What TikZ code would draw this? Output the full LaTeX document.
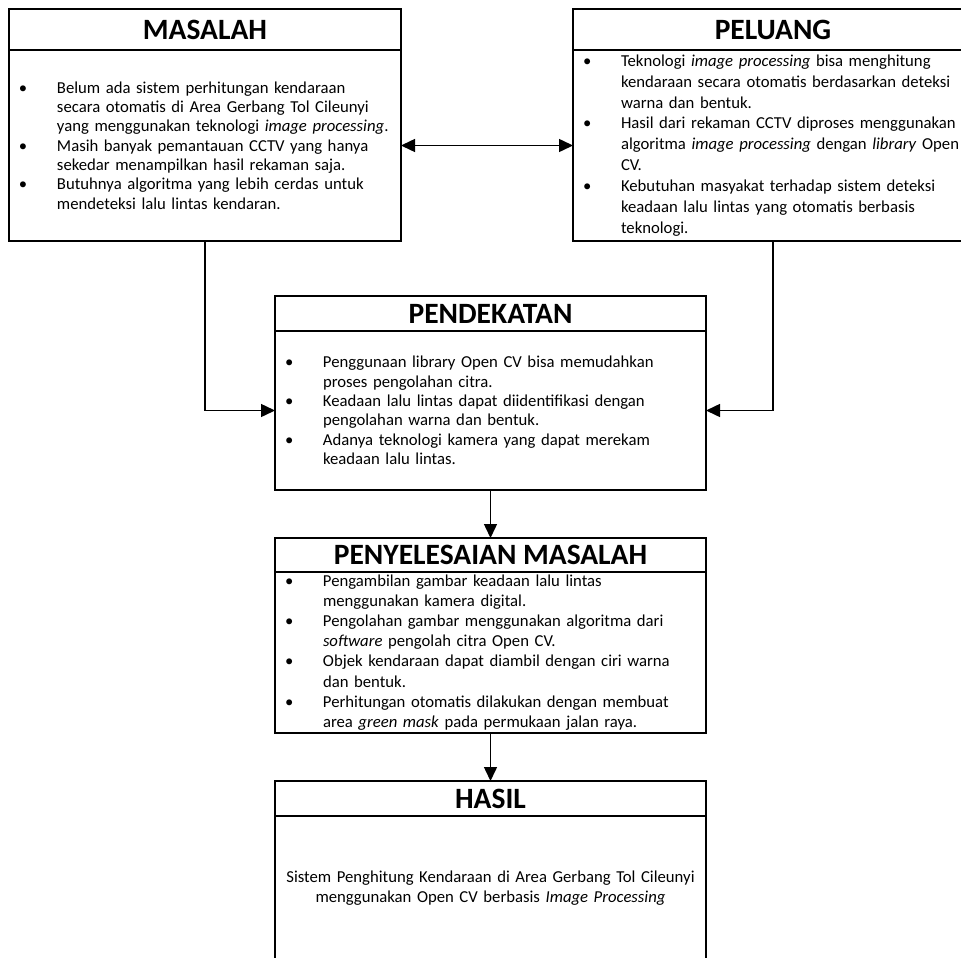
\documentclass[tikz,border=0pt]{standalone}
\usepackage{fontspec}
\setmainfont{Carlito}
\usepackage{tikz}
\usetikzlibrary{positioning,arrows.meta}

\newcommand{\butir}[1]{\leftskip=10pt\hangindent=38pt\hangafter=1\hyphenpenalty=10000\relax
    \noindent\makebox[38pt][l]{\textbullet}#1\par}

\begin{document}
\begin{tikzpicture}[x=1pt, y=-1pt, line width=1.5pt, >={Triangle[length=14pt,width=13pt]},
    every node/.style={draw=black, outer sep=0pt, inner sep=0pt},
    judul/.style={font=\bfseries\fontsize{29.5}{31}\selectfont},
    isi/.style={font=\fontsize{16.7}{19.3}\selectfont, align=left},
    isirapat/.style={isi, font=\fontsize{16.7}{20.9}\selectfont}]
    \clip (0,0) rectangle (961,958);

    \node (MT) [judul, minimum width=392pt, minimum height=41pt] at (205,29.5) {MASALAH};
    \node (MB) [isi, below=0pt of MT, text width=392pt, minimum height=191pt] {%
        \butir{Belum ada sistem perhitungan kendaraan\newline secara otomatis di Area Gerbang Tol Cileunyi\newline yang menggunakan teknologi \textit{image processing}.}
        \butir{Masih banyak pemantauan CCTV yang hanya\newline sekedar menampilkan hasil rekaman saja.}
        \butir{Butuhnya algoritma yang lebih cerdas untuk\newline mendeteksi lalu lintas kendaran.}};

    \node (PT) [judul, minimum width=400pt, minimum height=41pt] at (773,29.5) {PELUANG};
    \node (PB) [isirapat, below=0pt of PT, text width=400pt, minimum height=191pt] {%
        \butir{Teknologi \textit{image processing} bisa menghitung\newline kendaraan secara otomatis berdasarkan deteksi\newline warna dan bentuk.}
        \butir{Hasil dari rekaman CCTV diproses menggunakan\newline algoritma \textit{image processing} dengan \textit{library} Open\newline CV.}
        \butir{Kebutuhan masyakat terhadap sistem deteksi\newline keadaan lalu lintas yang otomatis berbasis\newline teknologi.}};

    \node (DT) [judul, minimum width=431pt, minimum height=35pt] at (490.5,313.5) {PENDEKATAN};
    \node (DB) [isi, below=0pt of DT, text width=431pt, minimum height=159pt] {%
        \butir{Penggunaan library Open CV bisa memudahkan\newline proses pengolahan citra.}
        \butir{Keadaan lalu lintas dapat diidentifikasi dengan\newline pengolahan warna dan bentuk.}
        \butir{Adanya teknologi kamera yang dapat merekam\newline keadaan lalu lintas.}};

    \node (ST) [judul, minimum width=431pt, minimum height=34pt] at (490.5,555) {PENYELESAIAN MASALAH};
    \node (SB) [isi, font=\fontsize{16.7}{20.2}\selectfont, below=0pt of ST, text width=431pt, minimum height=161pt] {%
        \butir{Pengambilan gambar keadaan lalu lintas\newline menggunakan kamera digital.}
        \butir{Pengolahan gambar menggunakan algoritma dari\newline \textit{software} pengolah citra Open CV.}
        \butir{Objek kendaraan dapat diambil dengan ciri warna\newline dan bentuk.}
        \butir{Perhitungan otomatis dilakukan dengan membuat\newline area \textit{green mask} pada permukaan jalan raya.}};

    \node (HT) [judul, minimum width=431pt, minimum height=35pt] at (490.5,798.5) {HASIL};
    \node (HB) [isi, align=center, below=0pt of HT, text width=431pt, minimum height=144pt] {%
        Sistem Penghitung Kendaraan di Area Gerbang Tol Cileunyi\\
        menggunakan Open CV berbasis \textit{Image Processing}};

    \draw[<->] (MB) -- (PB);
    \draw[->] (MB.south) |- (DB.west);
    \draw[->] (PB.south) |- (DB.east);
    \draw[->] (DB.south) -- (ST.north);
    \draw[->] (SB.south) -- (HT.north);
\end{tikzpicture}
\end{document}
